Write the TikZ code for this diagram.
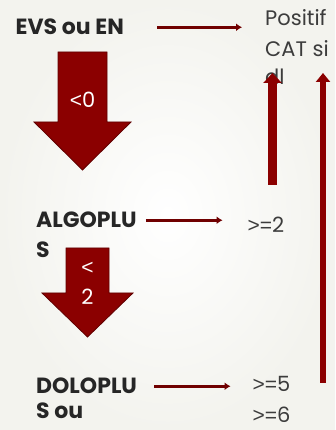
\documentclass[tikz,border=0pt]{standalone}
\usepackage{fontspec}
\setmainfont{Poppins}
\newfontfamily\signfont{Liberation Sans}
\usetikzlibrary{positioning,calc}
\usetikzlibrary{arrows.meta}
\definecolor{ArrRed}{RGB}{139,0,0}
\definecolor{LinkRed}{RGB}{112,0,0}
\definecolor{EdgeRed}{RGB}{95,0,0}
\definecolor{InkGray}{RGB}{38,38,38}
\definecolor{TextGray}{RGB}{60,60,60}
\definecolor{PaperEdge}{RGB}{243,243,238}
\tikzset{
  head/.style={font=\bfseries\fontsize{22}{26}\selectfont,text=InkGray,inner sep=0pt,anchor=base west},
  val/.style={font=\fontsize{21}{26}\selectfont,text=TextGray,inner sep=0pt,anchor=base west},
  link/.style={draw=LinkRed,line width=3pt,-{Latex[length=6pt,width=8pt]}},
  bigarrow/.style={fill=ArrRed,draw=EdgeRed,line width=0.8pt},
  cond/.style={text=white,font=\fontsize{21}{26}\selectfont,inner sep=0pt},
}
\tikzset{uparrow/.style={draw=ArrRed,-{Triangle[length=10pt,width=18pt]}}}

\begin{document}
\begin{tikzpicture}[x=1pt,y=1pt]
\useasboundingbox (0,0) rectangle (335,430);
\shade[inner color=white,outer color=PaperEdge] (0,0) rectangle (335,430);
% texts
\node[head] (evs) at (15.5,395) {EVS ou EN};
\node[val] (pos) at (265,404) {Positif};
\node[val] (cat) at (265,373) {CAT si};
\node[val] (dl) at (265,345) {dl};
\node[head] (algo) at (36,202) {ALGOPLU};
\node[head] (algos) at (36,172) {S};
\node[val] (ge2) at (247.5,197) {{\signfont >=}2};
\node[head] (dolo) at (36,36) {DOLOPLU};
\node[head] (dolos) at (36,12) {S ou};
\node[val] (ge5) at (252.5,38) {{\signfont >=}5};
\node[val] (ge6) at (252.5,8) {{\signfont >=}6};
% big arrows
\draw[bigarrow] (58,378) -- (107,378) -- (107,308) -- (131,308) -- (82.5,260) -- (34,308) -- (58,308) -- cycle;
\node[cond] (lt0) at (82.5,330) {{\signfont <}0};
\draw[bigarrow] (66,182) -- (109,182) -- (109,137) -- (133,137) -- (87.5,93) -- (42,137) -- (66,137) -- cycle;
\node[cond] (lt2) at (87.5,162) {\signfont <};
\node[cond] (two) at (87.5,133) {2};
% links
\draw[link,shorten <=33pt,shorten >=23pt] (evs.east) -- (evs.east -| pos.west);
\draw[link,shorten <=9pt,shorten >=25pt] (algo.east) -- (algo.east -| ge2.west);
\draw[link,shorten <=17pt,shorten >=22pt] (dolo.east) -- (dolo.east -| ge5.west);
% up arrows
\coordinate (ua) at (272.5,245);
\coordinate (uat) at (272.5,357);
\coordinate (ub) at (323,47);
\coordinate (ubt) at (323,357);
\draw[uparrow,line width=9pt] (ua) -- (uat);
\draw[uparrow,line width=6pt,-{Triangle[length=9pt,width=14pt]}] (ub) -- (ubt);
\end{tikzpicture}
\end{document}
